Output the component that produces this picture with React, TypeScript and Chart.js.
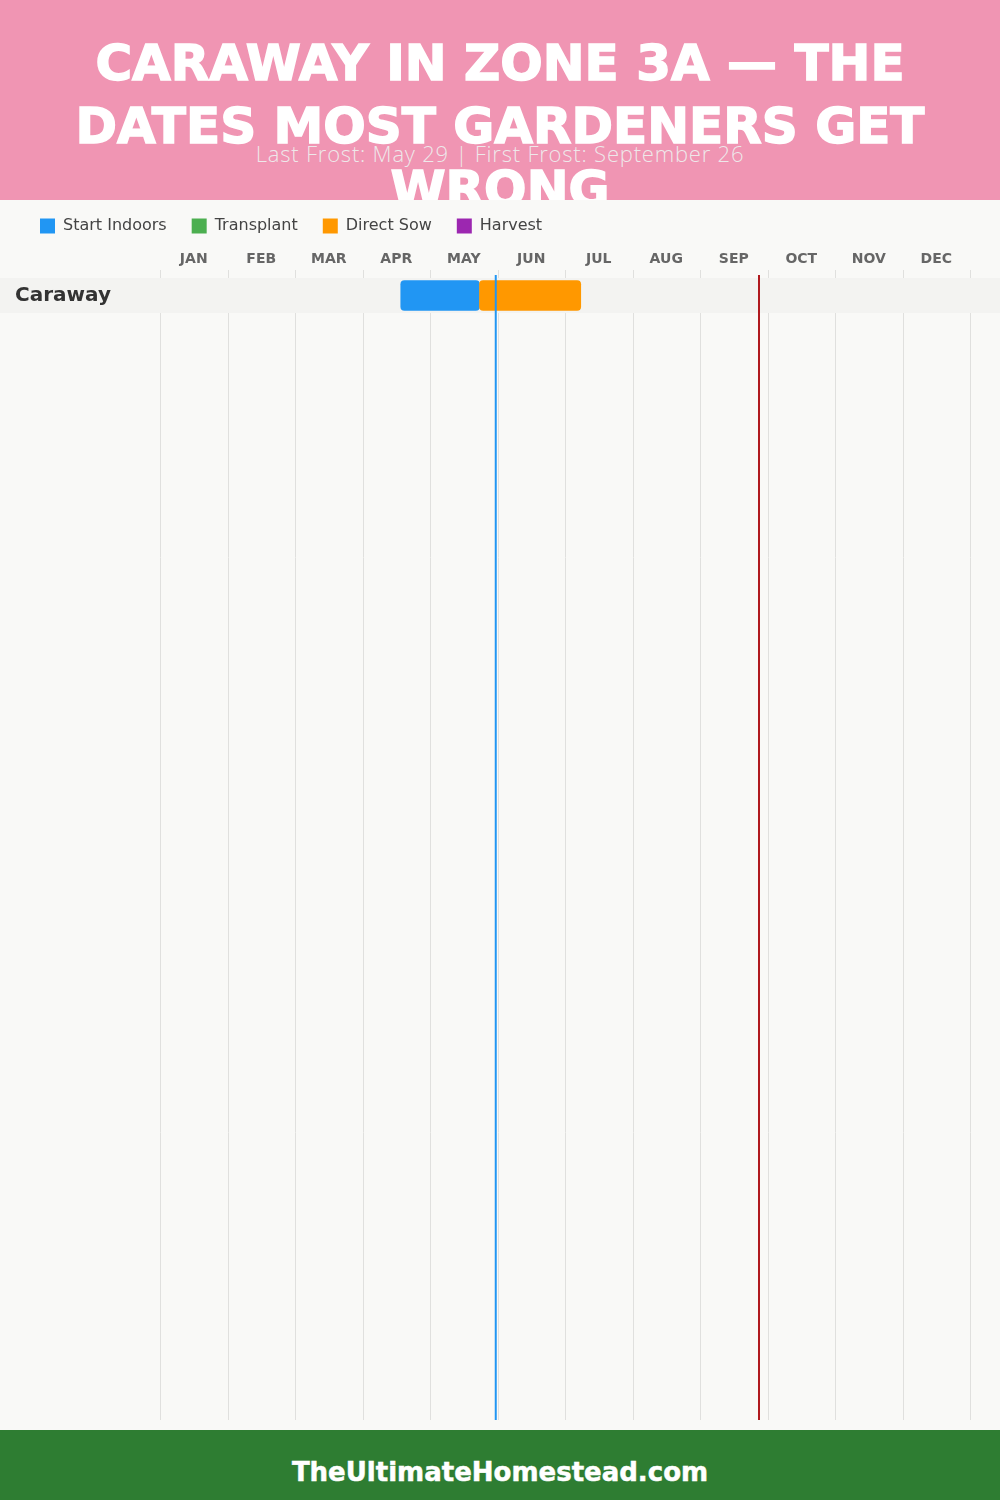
import React, { useEffect, useRef } from 'react';
import { Chart, registerables } from 'chart.js';

Chart.register(...registerables);

// ---- Data ----
const titleLines = ['CARAWAY IN ZONE 3A — THE', 'DATES MOST GARDENERS GET', 'WRONG'];
const subtitle = 'Last Frost: May 29 | First Frost: September 26';
const footerText = 'TheUltimateHomestead.com';

const months = ['JAN', 'FEB', 'MAR', 'APR', 'MAY', 'JUN', 'JUL', 'AUG', 'SEP', 'OCT', 'NOV', 'DEC'];
const crops = ['Caraway'];

const seriesNames = ['Start Indoors', 'Transplant', 'Direct Sow', 'Harvest'];
const seriesColors = ['#2196F3', '#4CAF50', '#FF9800', '#9C27B0'];

// date ranges (MM-DD) per crop, null = none
const startIndoors: ([string, string] | null)[] = [['04-17', '05-22']];
const transplant: ([string, string] | null)[] = [null];
const directSow: ([string, string] | null)[] = [['05-22', '07-07']];
const harvest: ([string, string] | null)[] = [null];

const lastFrost = '05-29';
const firstFrost = '09-26';

const toPos = (md: string) => {
  const [m, d] = md.split('-').map(Number);
  return m - 1 + d / 30;
};

const FONT = '"DejaVu Sans", sans-serif';

export default function App() {
  const canvasRef = useRef<HTMLCanvasElement | null>(null);

  useEffect(() => {
    const canvas = canvasRef.current;
    if (!canvas) return;
    const seriesData = [startIndoors, transplant, directSow, harvest];

    const decor = {
      id: 'ganttDecor',
      beforeDraw(chart: any) {
        const { ctx, chartArea } = chart;
        const x = chart.scales.x;
        ctx.save();
        ctx.strokeStyle = '#E0E0DE';
        ctx.lineWidth = 1;
        for (let i = 0; i <= months.length; i++) {
          const px = Math.round(x.getPixelForValue(i)) + 0.5;
          ctx.beginPath();
          ctx.moveTo(px, chartArea.top - 8);
          ctx.lineTo(px, chart.height - 10);
          ctx.stroke();
        }
        ctx.fillStyle = '#F3F3F1';
        ctx.fillRect(0, chartArea.top, chart.width, chartArea.bottom - chartArea.top);
        ctx.restore();
      },
      afterDatasetsDraw(chart: any) {
        const { ctx, chartArea } = chart;
        const x = chart.scales.x;
        const lines: [string, string][] = [
          [lastFrost, '#2196F3'],
          [firstFrost, '#B0191E'],
        ];
        ctx.save();
        ctx.lineWidth = 2;
        for (const [d, c] of lines) {
          const px = x.getPixelForValue(toPos(d)) + 0.5;
          ctx.strokeStyle = c;
          ctx.beginPath();
          ctx.moveTo(px, chartArea.top - 3);
          ctx.lineTo(px, chart.height - 10);
          ctx.stroke();
        }
        ctx.restore();
      },
    };

    const chart = new Chart(canvas, {
      type: 'bar',
      data: {
        labels: crops,
        datasets: seriesNames.map((name, si) => ({
          label: name,
          data: seriesData[si].map((r) => (r ? [toPos(r[0]), toPos(r[1])] : null)) as any,
          backgroundColor: seriesColors[si],
          borderWidth: 0,
          borderRadius: 4,
          borderSkipped: false,
          barThickness: 30,
          grouped: false,
          order: name === 'Direct Sow' ? 0 : 1,
        })),
      },
      options: {
        indexAxis: 'y',
        animation: false,
        responsive: false,
        devicePixelRatio: 1,
        layout: { padding: { left: 15, right: 30, top: 3, bottom: 1117 } },
        plugins: {
          legend: {
            position: 'top',
            align: 'start',
            labels: {
              boxWidth: 15,
              boxHeight: 15,
              padding: 25,
              color: '#444444',
              font: { family: FONT, size: 16 },
              sort: (a: any, b: any) => a.datasetIndex - b.datasetIndex,
            },
          },
          tooltip: { enabled: false },
        },
        scales: {
          x: { type: 'linear', min: 0, max: 12, display: false },
          months: {
            type: 'category',
            axis: 'x',
            labels: months,
            position: 'top',
            offset: true,
            grid: { display: false, drawTicks: false },
            border: { display: false },
            ticks: {
              color: '#666666',
              font: { family: FONT, size: 14, weight: 'bold' },
              padding: 10,
              maxRotation: 0,
              autoSkip: false,
            },
            afterFit: (s: any) => {
              s.height = 34;
            },
          },
          y: {
            type: 'category',
            position: 'left',
            grid: { display: false },
            border: { display: false },
            ticks: {
              crossAlign: 'far',
              color: '#333333',
              font: { family: FONT, size: 20, weight: 'bold' },
              padding: 0,
            },
            afterFit: (s: any) => {
              s.width = 145;
            },
          },
        } as any,
      },
      plugins: [decor],
    } as any);

    return () => chart.destroy();
  }, []);

  return (
    <div style={{ position: 'absolute', top: 0, left: 0, width: 1000, height: 1500, overflow: 'hidden', background: '#F9F9F7' }}>
      <div style={{ position: 'absolute', top: 0, left: 0, width: 1000, height: 200, background: '#F095B3' }}>
        {titleLines.map((t, i) => (
          <div
            key={i}
            style={{
              position: 'absolute',
              left: 0,
              width: 1000,
              top: 38 + i * 63,
              textAlign: 'center',
              color: '#FFFFFF',
              fontFamily: FONT,
              fontWeight: 'bold',
              fontSize: 50,
              lineHeight: '50px',
              whiteSpace: 'nowrap',
              WebkitTextStroke: '1.5px #FFFFFF',
            }}
          >
            {t}
          </div>
        ))}
        <div
          style={{
            position: 'absolute',
            left: 0,
            width: 1000,
            top: 142,
            textAlign: 'center',
            color: 'rgba(238,238,238,0.95)',
            fontFamily: '"Open Sans", sans-serif',
            fontWeight: 300,
            fontSize: 22,
            lineHeight: '22px',
            letterSpacing: '0.8px',
            whiteSpace: 'nowrap',
          }}
        >
          {subtitle}
        </div>
      </div>
      <div style={{ position: 'absolute', top: 200, left: 0, width: 1000, height: 1230, background: '#F9F9F7', zIndex: 1 }} />
      <canvas
        ref={canvasRef}
        width={1000}
        height={1240}
        style={{ position: 'absolute', top: 190, left: 0, width: 1000, height: 1240, zIndex: 2 }}
      />
      <div
        style={{
          position: 'absolute',
          top: 1430,
          left: 0,
          width: 1000,
          height: 70,
          background: '#2E7D32',
          zIndex: 3,
        }}
      >
        <div
          style={{
            position: 'absolute',
            left: 0,
            width: 1000,
            top: 29,
            textAlign: 'center',
            color: '#FFFFFF',
            fontFamily: FONT,
            fontWeight: 'bold',
            fontSize: 26,
            lineHeight: '26px',
            whiteSpace: 'nowrap',
            WebkitTextStroke: '0.5px #FFFFFF',
          }}
        >
          {footerText}
        </div>
      </div>
    </div>
  );
}
